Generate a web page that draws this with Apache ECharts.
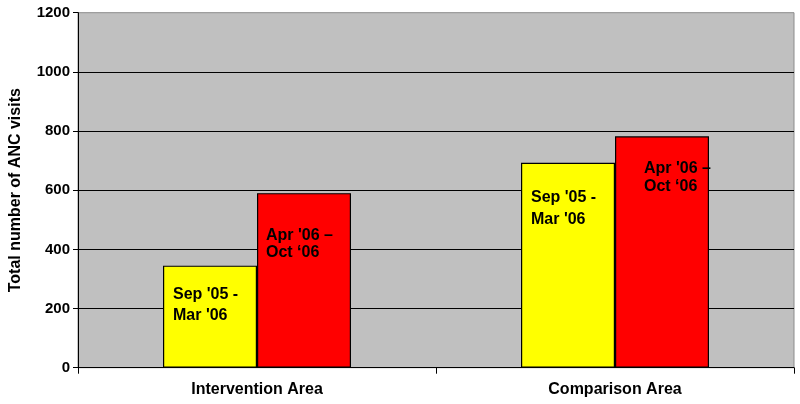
<!DOCTYPE html>
<html>
<head>
<meta charset="utf-8">
<script src="https://cdn.jsdelivr.net/npm/echarts@6/dist/echarts.min.js"></script>
<style>html,body{margin:0;padding:0;background:#fff}#c{width:800px;height:404px}</style>
</head>
<body>
<div id="c"></div>
<script>
const categories = ['Intervention Area', 'Comparison Area'];
const periodA = 'Sep \'05 -\nMar \'06';
const periodB = 'Apr \'06 \u2013\nOct \u201806';
const valuesA = [345, 693];
const valuesB = [590, 782];
const yTicks = [0, 200, 400, 600, 800, 1000, 1200];

// label placement (style only), relative to each bar's top-left corner
const labelPosA = [[10, 18], [10, 24]];
const labelLineA = [21, 22];
const labelPosB = [[9, 34], [29, 23]];
const labelLineB = [17, 18];

const font = 'Liberation Sans, Arial, sans-serif';

function mk(values, pos, lh, text) {
  return values.map((v, i) => ({
    value: v,
    label: {
      show: true,
      position: pos[i],
      formatter: text,
      lineHeight: lh[i],
      fontSize: 16,
      fontWeight: 'bold',
      fontFamily: font,
      color: '#000',
      align: 'left',
      verticalAlign: 'top'
    }
  }));
}

const chart = echarts.init(document.getElementById('c'), null, {renderer: 'canvas'});
chart.setOption({
  animation: false,
  backgroundColor: '#fff',
  grid: {left: 77, right: 6, top: 12.7, bottom: 36.3, show: true, backgroundColor: '#c0c0c0', borderWidth: 1, borderColor: '#8c8c8c'},
  xAxis: {
    type: 'category',
    data: categories,
    axisLine: {show: true, lineStyle: {color: '#000', width: 1}},
    axisTick: {show: true, length: 6, interval: 0, lineStyle: {color: '#000'}},
    axisLabel: {margin: 14, fontSize: 16, fontWeight: 'bold', fontFamily: font, color: '#000'}
  },
  yAxis: {
    type: 'value',
    min: yTicks[0],
    max: yTicks[yTicks.length - 1],
    interval: yTicks[1] - yTicks[0],
    name: 'Total number of ANC visits',
    nameLocation: 'middle',
    nameGap: 54,
    nameTextStyle: {fontSize: 16, fontWeight: 'bold', fontFamily: font, color: '#000'},
    axisLine: {show: true, lineStyle: {color: '#000', width: 1}},
    axisTick: {show: true, length: 5, lineStyle: {color: '#000'}},
    axisLabel: {margin: 8, fontSize: 15, fontWeight: 'bold', fontFamily: font, color: '#000', formatter: v => String(v)},
    splitLine: {show: true, showMinLine: false, showMaxLine: false, lineStyle: {color: '#000', width: 1}}
  },
  series: [
    {
      type: 'bar',
      data: mk(valuesA, labelPosA, labelLineA, periodA),
      barWidth: 94,
      barGap: '0%',
      itemStyle: {color: '#ffff00', borderColor: '#000', borderWidth: 1.2}
    },
    {
      type: 'bar',
      data: mk(valuesB, labelPosB, labelLineB, periodB),
      barWidth: 94,
      barGap: '0%',
      itemStyle: {color: '#ff0000', borderColor: '#000', borderWidth: 1.2}
    }
  ]
});
</script>
</body>
</html>
